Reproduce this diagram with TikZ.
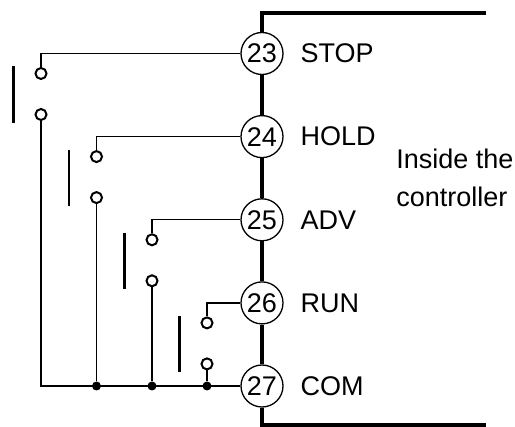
\documentclass[tikz,border=0pt]{standalone}
\usepackage{fontspec}
\setmainfont{Liberation Sans}
\usetikzlibrary{positioning}

\begin{document}
\begin{tikzpicture}[x=0.5pt,y=-0.5pt]
\tikzstyle{terminal} = [circle, draw, line width=0.65pt, fill=white,
minimum size=21pt, inner sep=0pt, font=\fontsize{13.5}{16}\selectfont]
\tikzstyle{signal} = [anchor=west, inner sep=0pt, font=\fontsize{13.5}{16}\selectfont]
\tikzstyle{note} = [anchor=west, inner sep=0pt, align=left, font=\fontsize{13.5}{19}\selectfont]
\tikzstyle{contact} = [circle, draw, line width=1pt, fill=white,
minimum size=5.5pt, inner sep=0pt]
\tikzstyle{dot} = [circle, fill, minimum size=4.5pt, inner sep=0pt]
\tikzstyle{wire} = [draw, line width=0.65pt]
\tikzstyle{bar} = [draw, line width=1.15pt]
\tikzstyle{frame} = [draw, line width=2pt]
\useasboundingbox (0,0) rectangle (515,427);
% terminals
\node [terminal] (t23) at (262,53.5) {23};
\node [terminal] (t24) at (262,136.6) {24};
\node [terminal] (t25) at (262,219.8) {25};
\node [terminal] (t26) at (262,302.9) {26};
\node [terminal] (t27) at (262,386) {27};
\node [signal, right=8.25pt of t23] (stop) {STOP};
\node [signal, right=8.25pt of t24] (hold) {HOLD};
\node [signal, right=8.25pt of t25] (adv) {ADV};
\node [signal, right=8.25pt of t26] (run) {RUN};
\node [signal, right=8.25pt of t27] (com) {COM};
\node [note] (inside) at (396,178) {Inside the\\controller};
% controller side
\coordinate (topend) at (486,13);
\coordinate (botend) at (486,425);
\path [frame] (t23) |- (topend);
\path [frame] (t23) -- (t24);
\path [frame] (t24) -- (t25);
\path [frame] (t25) -- (t26);
\path [frame] (t26) -- (t27);
\path [frame] (t27) |- (botend);
% switch 1
\node [contact] (s1a) at (41,73.5) {};
\node [contact] (s1b) at (41,114.5) {};
\path [bar] (13.5,66.5) -- (13.5,123);
% switch 2
\node [contact] (s2a) at (96.5,156.6) {};
\node [contact] (s2b) at (96.5,197.6) {};
\path [bar] (69,149.6) -- (69,206.1);
% switch 3
\node [contact] (s3a) at (152,239.8) {};
\node [contact] (s3b) at (152,280.8) {};
\path [bar] (124.5,232.8) -- (124.5,289.3);
% switch 4
\node [contact] (s4a) at (207,322.9) {};
\node [contact] (s4b) at (207,363.9) {};
\path [bar] (179.5,315.9) -- (179.5,372.4);
% wiring
\node [dot] (j2) at (96.5,386) {};
\node [dot] (j3) at (152,386) {};
\node [dot] (j4) at (207,386) {};
\path [wire] (s1a) |- (t23);
\path [wire] (s2a) |- (t24);
\path [wire] (s3a) |- (t25);
\path [wire] (s4a) |- (t26);
\path [wire] (s1b) |- (t27);
\path [wire] (s2b) -- (j2);
\path [wire] (s3b) -- (j3);
\path [wire] (s4b) -- (j4);
\end{tikzpicture}
\end{document}
